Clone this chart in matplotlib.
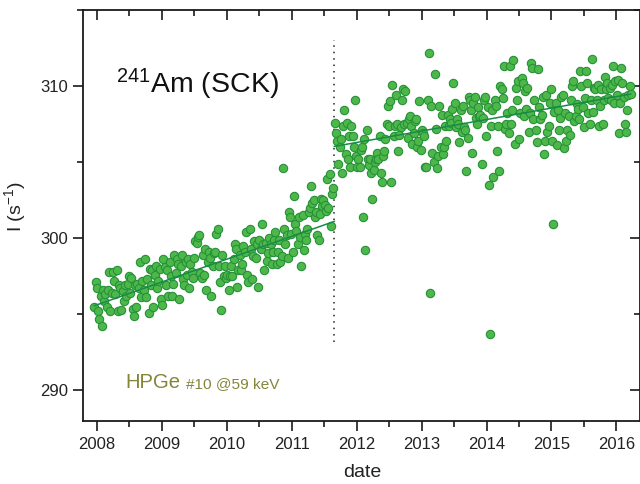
import numpy as np
import matplotlib
matplotlib.use("Agg")
import matplotlib.pyplot as plt
from matplotlib.ticker import MultipleLocator

plt.rcParams['font.family'] = ['Liberation Sans', 'DejaVu Sans']
plt.rcParams['mathtext.default'] = 'regular'

seg1_start, seg1_end = 2007.96, 2011.64
seg1_values = [
    295.5, 297.1, 296.7, 295.2, 294.7, 296.2, 294.2, 296.6, 295.9, 296.3, 295.5, 296.6, 297.8, 295.2, 296.4,
    297.8, 297.2, 296.3, 297.9, 295.2, 296.9, 296.7, 295.3, 296.5, 295.9, 296.9, 296.2, 297.0,
    297.5, 296.4, 297.4, 295.35, 294.85, 296.9, 295.5, 297.0, 296.7, 298.4, 296.1, 297.2, 296.6,
    298.6, 296.1, 297.3, 295.1, 298.0, 296.9, 297.9, 295.5, 297.6, 298.2, 296.7, 297.2, 298.0,
    296.0, 295.6, 298.6, 298.1, 296.9, 297.9, 296.2, 298.4, 297.5, 296.2, 297.0, 298.9, 297.7,
    298.6, 298.3, 296.0, 298.2, 298.9, 297.3, 296.9, 298.4, 297.6, 298.6, 296.7, 298.3, 297.8,
    297.4, 298.7, 299.8, 299.7, 300.1, 300.2, 297.7, 297.4, 298.9, 297.6, 299.3, 296.6, 298.4,
    299.1, 298.7, 296.2, 298.2, 299.0, 299.1, 300.3, 300.6, 298.2, 297.1, 295.3, 298.9, 297.5,
    298.2, 297.4, 297.6, 296.6, 297.5, 298.2, 297.5, 298.6, 299.6, 299.3, 296.8, 297.9, 298.9,
    297.9, 298.3, 299.5, 299.1, 300.4, 297.6, 297.1, 300.6, 299.3, 297.3, 298.8, 299.8, 298.7,
    299.6, 296.8, 299.9, 299.3, 300.9, 299.6, 297.9, 299.7, 298.5, 299.0, 300.0, 299.6, 298.3,
    299.1, 299.9, 300.4, 298.3, 299.1, 299.9, 298.4, 298.8, 304.6, 300.6, 299.6, 300.2, 298.7,
    301.7, 301.4, 300.3, 299.1, 302.8, 300.9, 300.5, 299.6, 301.4, 300.1, 298.2, 301.5, 299.2, 300.3, 299.9,
    300.6, 301.7, 302.0, 303.4, 302.3, 302.5, 301.4, 301.7, 300.2, 299.9, 301.6, 302.6, 302.1,
    302.5, 302.2, 301.8, 303.9, 302.0, 304.2, 300.8, 302.9, 303.3,
]

seg2_start, seg2_end = 2011.665, 2016.22
seg2_values = [
    307.6, 306.9, 306.4, 304.9, 306.0, 306.5, 304.3, 307.4, 308.4, 305.5, 307.6, 305.2, 306.7, 304.7,
    307.4, 306.7, 306.0, 309.1, 305.4, 304.7, 305.2, 304.7, 305.8, 306.0, 301.4, 306.5, 299.2, 307.1, 305.2, 304.8,
    305.2, 304.3, 302.6, 304.5, 305.0, 305.2, 305.6, 305.2, 306.7, 304.3, 303.7, 305.4, 305.7,
    306.5, 307.5, 308.7, 307.4, 309.0, 303.7, 310.1, 306.7, 307.4, 309.4, 307.5, 305.7, 306.8,
    307.3, 309.1, 309.8, 307.5, 309.7, 307.6, 306.6, 307.8, 308.0, 307.4, 306.2, 306.9, 307.7,
    307.8, 306.0, 306.4, 309.0, 305.8, 307.1, 306.9, 306.7, 304.7, 304.7, 309.1, 312.2, 296.4, 308.7,
    305.6, 305.0, 310.8, 307.2, 304.6, 305.4, 308.7, 306.0, 308.1, 305.5, 306.0, 307.4, 306.4,
    308.1, 307.4, 307.8, 307.6, 308.5, 310.2, 308.9, 307.3, 307.8, 307.5, 306.3, 308.4, 307.0,
    308.7, 307.3, 307.1, 304.4, 306.6, 309.3, 309.1, 308.4, 305.6, 308.9, 309.3, 307.9, 307.5,
    308.6, 308.0, 308.1, 304.9, 307.9, 309.1, 309.3, 306.7, 308.6, 303.5, 293.7, 307.4, 308.4, 304.0,
    309.1, 308.7, 305.7, 307.4, 304.4, 310.0, 309.8, 309.2, 311.3, 307.2, 307.5, 308.2, 306.9,
    311.3, 307.5, 308.4, 311.7, 306.2, 309.9, 309.1, 310.3, 306.5, 308.2, 310.5, 310.2, 308.0,
    309.7, 308.5, 309.9, 307.0, 308.2, 311.5, 311.2, 307.8, 309.1, 307.1, 306.3, 311.1, 308.6,
    307.8, 308.1, 309.3, 305.5, 306.4, 309.4, 307.0, 307.4, 308.9, 309.8, 306.4, 300.9, 308.3,
    308.9, 306.1, 308.4, 307.1, 307.9, 309.3, 309.4, 305.9, 308.2, 306.4, 307.1, 308.0, 306.8,
    309.1, 310.0, 310.3, 307.7, 308.0, 308.8, 308.5, 307.8, 311.0, 310.0, 308.6, 307.3, 309.2,
    311.0, 310.2, 308.2, 307.5, 309.1, 311.8, 308.3, 309.9, 309.8, 309.1, 310.1, 307.4, 308.7,
    309.8, 307.5, 309.1, 310.6, 309.8, 310.2, 309.2, 309.9, 309.1, 310.1, 311.3, 308.9, 310.3,
    309.4, 310.4, 306.9, 308.9, 311.2, 310.2, 309.3, 307.5, 307.0, 308.4, 309.4, 310.0, 309.5,
]

# linear fits (end points)
fit1_x = [2007.96, 2011.655]
fit1_y = [295.56, 301.1]
fit2_x = [2011.655, 2016.22]
fit2_y = [306.03, 309.47]

# source change date (vertical dotted marker)
change_x = 2011.655
change_y = [293.2, 313.0]

xticks = [2008, 2009, 2010, 2011, 2012, 2013, 2014, 2015, 2016]
yticks = [290, 300, 310]

# ---- figure ----
seg1_t = np.linspace(seg1_start, seg1_end, len(seg1_values))
seg2_t = np.linspace(seg2_start, seg2_end, len(seg2_values))

fig = plt.figure(figsize=(6.4, 4.84), dpi=100)
ax = fig.add_axes([0.1302, 0.1308, 0.8705, 0.8486])

fill = '#4db849'
edge = '#269139'
ax.scatter(seg1_t, seg1_values, s=36, facecolor=fill, edgecolor=edge, linewidth=0.8, zorder=3)
ax.scatter(seg2_t, seg2_values, s=36, facecolor=fill, edgecolor=edge, linewidth=0.8, zorder=3)

ax.plot(fit1_x, fit1_y, color='#178a4a', lw=1.1, zorder=4)
ax.plot(fit2_x, fit2_y, color='#178a4a', lw=1.1, zorder=4)
ax.plot([change_x, change_x], change_y, color='#222222', lw=1.1, ls=(0, (1.0, 3.2)), zorder=2)

ax.set_xlim(2007.79, 2016.37)
ax.set_ylim(288.0, 315.0)
ax.set_xticks(xticks)
ax.set_xticklabels([str(v) for v in xticks])
ax.set_yticks(yticks)
ax.set_yticklabels([str(v) for v in yticks])
ax.xaxis.set_minor_locator(MultipleLocator(0.5))
ax.yaxis.set_minor_locator(MultipleLocator(5))

for s in ax.spines.values():
    s.set_linewidth(1.3)
    s.set_color('#1a1a1a')

ax.tick_params(axis='both', which='major', direction='out', length=7, width=1.2,
               labelsize=12, colors='#1a1a1a', labelcolor='#222222')
ax.tick_params(axis='x', which='major', pad=5)
ax.tick_params(axis='y', which='major', pad=4)
ax.tick_params(axis='both', which='minor', direction='out', length=4, width=1.2, colors='#1a1a1a')
ax.tick_params(which='both', top=True, right=True)
# top/right ticks point inward
for t in ax.xaxis.get_major_ticks() + ax.xaxis.get_minor_ticks():
    t.tick2line.set_marker(matplotlib.lines.TICKDOWN)
for t in ax.yaxis.get_major_ticks() + ax.yaxis.get_minor_ticks():
    t.tick2line.set_marker(matplotlib.lines.TICKLEFT)

ax.set_xlabel('date', fontsize=14, color='#222222')
ax.xaxis.set_label_coords(0.50, -0.105)
ax.set_ylabel('I (s$^{-1}$)', fontsize=14, color='#222222')
ax.yaxis.set_label_coords(-0.10, 0.52)

ax.text(0.059, 0.798, '$^{241}$Am (SCK)', transform=ax.transAxes, fontsize=20.5,
        va='baseline', ha='left', color='#111111')
olive = '#85853a'
ax.text(0.076, 0.080, 'HPGe', transform=ax.transAxes, fontsize=14.6,
        va='baseline', ha='left', color=olive)
ax.text(0.184, 0.080, '#10 @59 keV', transform=ax.transAxes, fontsize=11.1,
        va='baseline', ha='left', color=olive)

fig.savefig('out.png', dpi=100)
